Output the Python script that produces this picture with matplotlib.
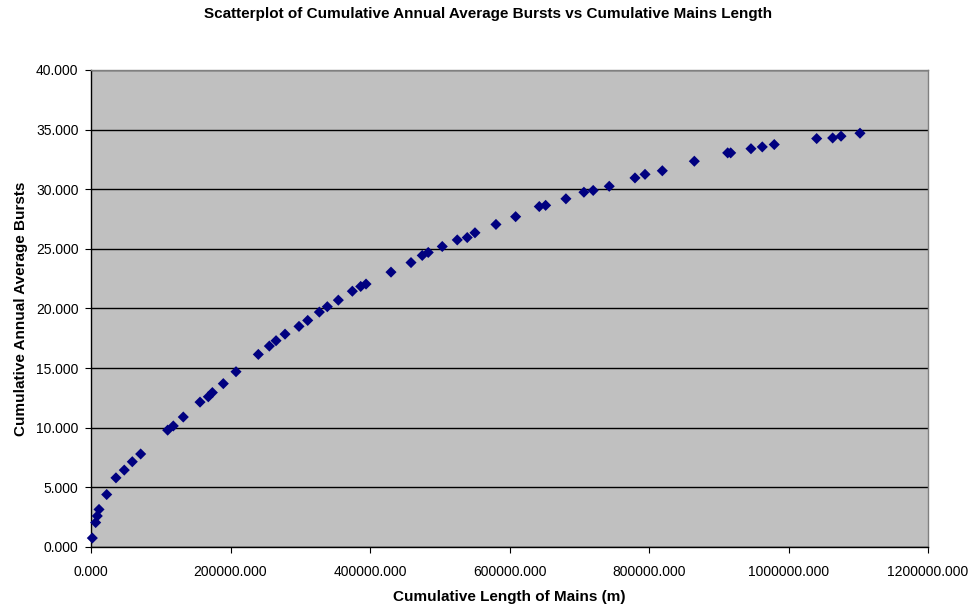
import numpy as np
import matplotlib
matplotlib.use('Agg')
import matplotlib.pyplot as plt
from matplotlib.ticker import FuncFormatter

# cumulative mains length (m) and cumulative annual average bursts
mains_length = [
    1900, 6700, 9000, 11500, 22500, 35800, 47700, 59200, 71200,
    109900, 118000, 132300, 156300, 168200, 174000, 189700, 207900,
    239900, 255700, 265300, 278200, 298200, 310700, 327400, 338800,
    354600, 374700, 386700, 394300, 430100, 458800, 474900, 483500,
    503600, 525100, 539400, 550500, 580600, 608800, 642700, 651800,
    680900, 706700, 720000, 743000, 779900, 794300, 819100, 865000,
    912800, 917100, 946200, 962400, 979600, 1040400, 1063300, 1075300,
    1102500,
]
bursts = [
    0.75, 2.05, 2.60, 3.15, 4.40, 5.80, 6.45, 7.15, 7.80,
    9.80, 10.15, 10.90, 12.15, 12.60, 12.95, 13.70, 14.70,
    16.15, 16.85, 17.30, 17.85, 18.50, 19.00, 19.70, 20.15,
    20.70, 21.45, 21.85, 22.05, 23.05, 23.85, 24.45, 24.70,
    25.20, 25.75, 25.95, 26.35, 27.05, 27.70, 28.55, 28.65,
    29.20, 29.75, 29.90, 30.25, 30.95, 31.25, 31.55, 32.35,
    33.05, 33.05, 33.40, 33.55, 33.75, 34.25, 34.30, 34.45,
    34.70,
]

plt.rcParams['font.family'] = ['Liberation Sans', 'DejaVu Sans']

fig = plt.figure(figsize=(9.76, 6.10), dpi=100)
ax = fig.add_axes([91 / 976, 1 - 547 / 610, 837 / 976, 477 / 610])
ax.set_facecolor('#C0C0C0')

ax.scatter(mains_length, bursts, marker='D', s=32, color='#000080',
           edgecolors='none', zorder=3, clip_on=False)

ax.set_xlim(0, 1200000)
ax.set_ylim(0, 40)
ax.set_xticks(np.arange(0, 1200001, 200000))
ax.set_yticks(np.arange(0, 40.1, 5))
fmt = FuncFormatter(lambda v, p: '%.3f' % v)
ax.xaxis.set_major_formatter(fmt)
ax.yaxis.set_major_formatter(fmt)
ax.tick_params(direction='out', length=4, width=0.8, labelsize=10, color='black', pad=5)
ax.tick_params(axis='x', pad=9)

ax.yaxis.grid(True, color='black', linewidth=1.0)
ax.set_axisbelow(True)

for side in ['top', 'right']:
    ax.spines[side].set_color('#808080')
    ax.spines[side].set_linewidth(1.0)
for side in ['left', 'bottom']:
    ax.spines[side].set_color('black')
    ax.spines[side].set_linewidth(1.0)

fig.text(0.5, 1 - 14 / 610, 'Scatterplot of Cumulative Annual Average Bursts vs Cumulative Mains Length',
         ha='center', va='center', fontsize=11, fontweight='bold')
ax.set_xlabel('Cumulative Length of Mains (m)', fontsize=11, fontweight='bold', labelpad=8)
ax.set_ylabel('Cumulative Annual Average Bursts', fontsize=11, fontweight='bold', labelpad=6)

fig.savefig('out.png', dpi=100, facecolor='white')
